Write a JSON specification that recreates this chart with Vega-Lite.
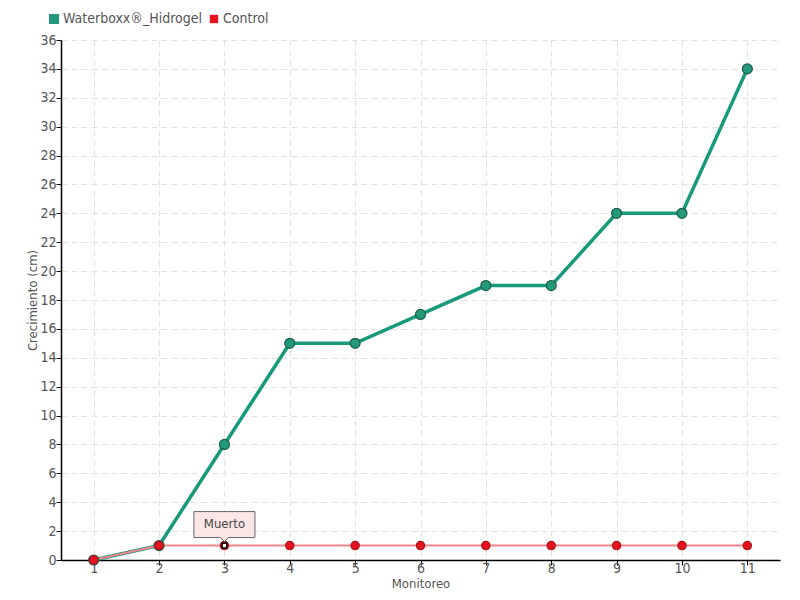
{
  "$schema": "https://vega.github.io/schema/vega-lite/v6.json",
  "description": "Crecimiento por monitoreo",
  "autosize": "none",
  "width": 719,
  "height": 520,
  "padding": {"left": 61, "top": 40, "right": 20, "bottom": 40},
  "background": "white",
  "config": {
    "font": "DejaVu Sans Condensed",
    "view": {"stroke": null},
    "axis": {
      "labelFont": "DejaVu Sans Condensed",
      "titleFont": "DejaVu Sans Condensed",
      "labelFontSize": 14,
      "titleFontSize": 13,
      "labelColor": "#555555",
      "titleColor": "#555555",
      "titleFontWeight": "normal",
      "domainColor": "#000000",
      "domainWidth": 1.5,
      "tickColor": "#000000",
      "tickSize": 5,
      "gridColor": "#e2e2e2",
      "gridDash": [6, 4],
      "gridWidth": 1
    },
    "legend": {
      "labelFont": "DejaVu Sans Condensed",
      "labelFontSize": 14,
      "labelColor": "#555555"
    }
  },
  "data": {
    "values": [
      {"monitoreo": 1, "serie": "Waterboxx®_Hidrogel", "valor": 0},
      {"monitoreo": 2, "serie": "Waterboxx®_Hidrogel", "valor": 1},
      {"monitoreo": 3, "serie": "Waterboxx®_Hidrogel", "valor": 8},
      {"monitoreo": 4, "serie": "Waterboxx®_Hidrogel", "valor": 15},
      {"monitoreo": 5, "serie": "Waterboxx®_Hidrogel", "valor": 15},
      {"monitoreo": 6, "serie": "Waterboxx®_Hidrogel", "valor": 17},
      {"monitoreo": 7, "serie": "Waterboxx®_Hidrogel", "valor": 19},
      {"monitoreo": 8, "serie": "Waterboxx®_Hidrogel", "valor": 19},
      {"monitoreo": 9, "serie": "Waterboxx®_Hidrogel", "valor": 24},
      {"monitoreo": 10, "serie": "Waterboxx®_Hidrogel", "valor": 24},
      {"monitoreo": 11, "serie": "Waterboxx®_Hidrogel", "valor": 34},
      {"monitoreo": 1, "serie": "Control", "valor": 0},
      {"monitoreo": 2, "serie": "Control", "valor": 1},
      {"monitoreo": 3, "serie": "Control", "valor": 1, "nota": "Muerto"},
      {"monitoreo": 4, "serie": "Control", "valor": 1},
      {"monitoreo": 5, "serie": "Control", "valor": 1},
      {"monitoreo": 6, "serie": "Control", "valor": 1},
      {"monitoreo": 7, "serie": "Control", "valor": 1},
      {"monitoreo": 8, "serie": "Control", "valor": 1},
      {"monitoreo": 9, "serie": "Control", "valor": 1},
      {"monitoreo": 10, "serie": "Control", "valor": 1},
      {"monitoreo": 11, "serie": "Control", "valor": 1}
    ]
  },
  "encoding": {
    "x": {
      "field": "monitoreo",
      "type": "ordinal",
      "scale": {"type": "point", "padding": 0.5},
      "axis": {
        "title": "Monitoreo",
        "labelAngle": 0,
        "labelPadding": -4,
        "titlePadding": 2,
        "grid": true
      }
    },
    "y": {
      "field": "valor",
      "type": "quantitative",
      "scale": {"domain": [0, 36], "nice": false},
      "axis": {
        "title": "Crecimiento (cm)",
        "values": [0, 2, 4, 6, 8, 10, 12, 14, 16, 18, 20, 22, 24, 26, 28, 30, 32, 34, 36],
        "labelPadding": 0,
        "titlePadding": 0,
        "grid": true
      }
    }
  },
  "layer": [
    {
      "transform": [{"filter": "datum.serie == 'Waterboxx®_Hidrogel'"}],
      "mark": {"type": "line", "color": "#17997b", "strokeWidth": 3.5},
      "encoding": {}
    },
    {
      "transform": [{"filter": "datum.serie == 'Control'"}],
      "mark": {"type": "line", "color": "#f5868c", "strokeWidth": 2},
      "encoding": {}
    },
    {
      "mark": {"type": "point", "filled": true, "opacity": 1, "strokeWidth": 1.2},
      "encoding": {
        "color": {
          "field": "serie",
          "type": "nominal",
          "scale": {
            "domain": ["Waterboxx®_Hidrogel", "Control"],
            "range": ["#21997a", "#e5121f"]
          },
          "legend": {
            "title": null,
            "orient": "none",
            "direction": "horizontal",
            "legendX": -14,
            "legendY": -28,
            "symbolType": "square",
            "symbolSize": 30,
            "symbolStrokeWidth": 0,
            "symbolOffset": 0,
            "labelOffset": 2,
            "columnPadding": 4
          }
        },
        "stroke": {
          "field": "serie",
          "type": "nominal",
          "scale": {
            "domain": ["Waterboxx®_Hidrogel", "Control"],
            "range": ["#1a5e4c", "#b3121b"]
          },
          "legend": null
        },
        "size": {
          "field": "serie",
          "type": "nominal",
          "scale": {
            "domain": ["Waterboxx®_Hidrogel", "Control"],
            "range": [100, 70]
          },
          "legend": null
        }
      }
    },
    {
      "transform": [{"filter": "datum.nota == 'Muerto'"}],
      "mark": {
        "type": "point",
        "shape": "square",
        "filled": true,
        "fill": "#ffffff",
        "stroke": "#000000",
        "strokeWidth": 1.5,
        "size": 22,
        "opacity": 1
      },
      "encoding": {}
    },
    {
      "transform": [{"filter": "datum.nota == 'Muerto'"}],
      "mark": {
        "type": "point",
        "shape": "M-1,-0.426L1,-0.426L1,0.426L0.13,0.426L0,0.56L-0.13,0.426L-1,0.426Z",
        "filled": true,
        "fill": "#fde6e6",
        "stroke": "#666666",
        "strokeWidth": 1,
        "size": 3721,
        "opacity": 1,
        "yOffset": -21
      },
      "encoding": {}
    },
    {
      "transform": [{"filter": "datum.nota == 'Muerto'"}],
      "mark": {
        "type": "text",
        "font": "DejaVu Sans Condensed",
        "fontSize": 13,
        "color": "#444444",
        "align": "center",
        "baseline": "middle",
        "yOffset": -22
      },
      "encoding": {"text": {"field": "nota"}}
    }
  ]
}
